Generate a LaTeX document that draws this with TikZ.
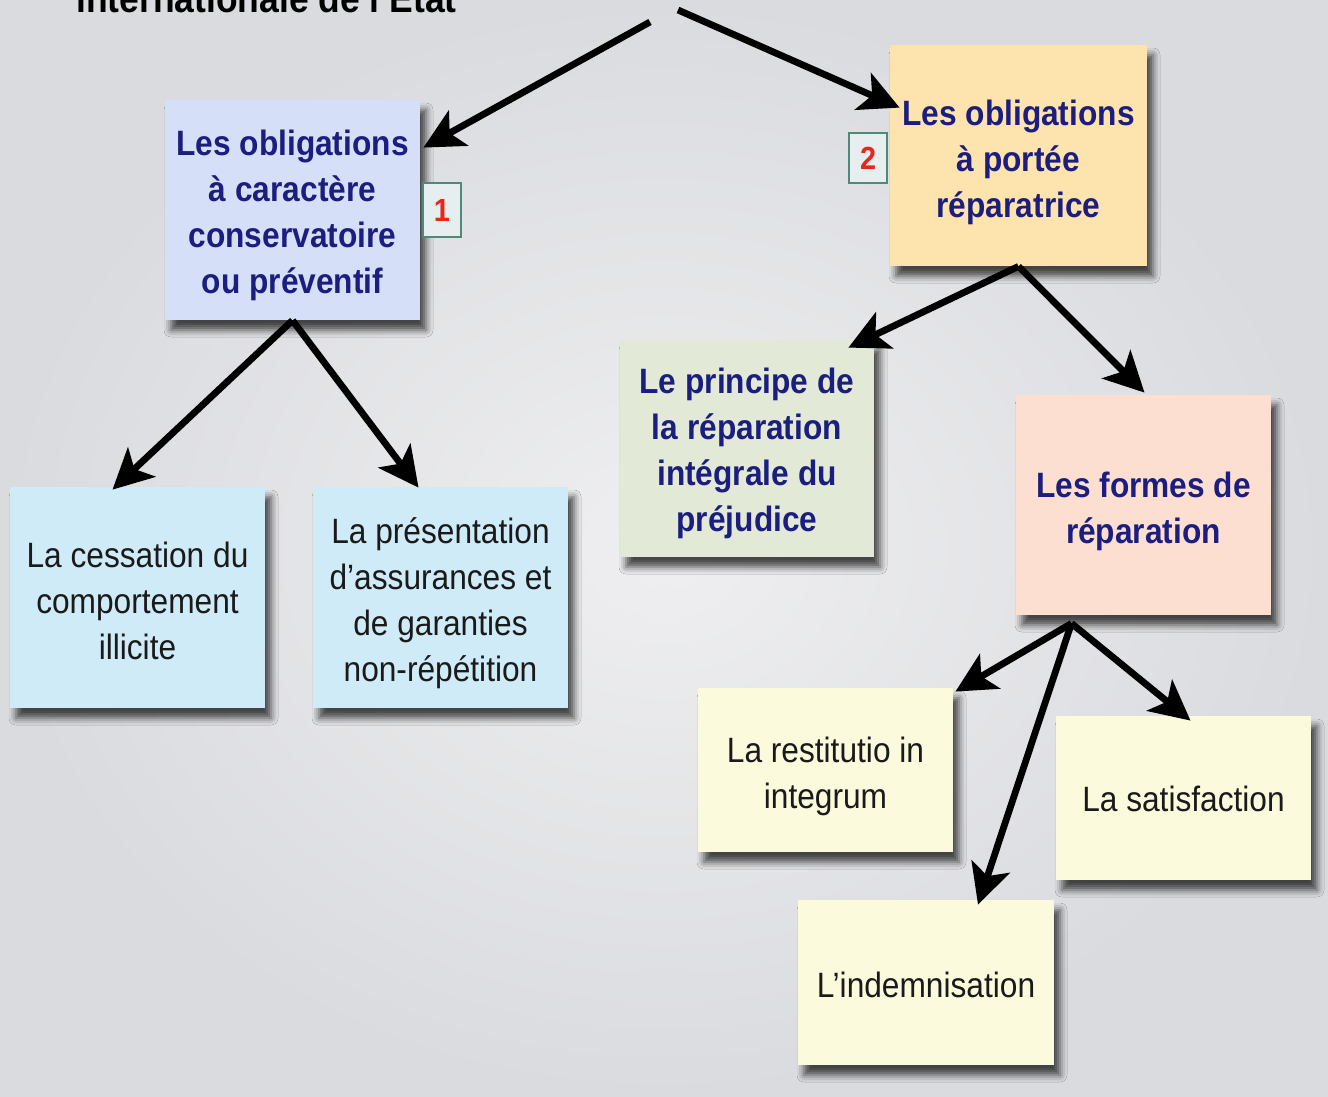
\documentclass[tikz,border=0pt]{standalone}
\usepackage{fontspec}
\setmainfont{Liberation Sans}[FakeStretch=0.9]
\usetikzlibrary{arrows.meta,calc,shadows.blur}
\definecolor{navy}{HTML}{1B1E7E}
\definecolor{txt}{HTML}{1A1A1A}
\definecolor{fblue}{HTML}{D5DFF8}
\definecolor{forange}{HTML}{FDE3AE}
\definecolor{fgreen}{HTML}{E2E9D6}
\definecolor{fpeach}{HTML}{FCDFD0}
\definecolor{fcyan}{HTML}{CFEBF8}
\definecolor{fyellow}{HTML}{FCFADC}
\definecolor{mkborder}{HTML}{4F8A76}
\definecolor{mkfill}{HTML}{E6EEF0}
\definecolor{mkred}{HTML}{E8261C}
\definecolor{bgin}{HTML}{EFEFF1}
\definecolor{bgout}{HTML}{DADBDF}
\begin{document}
\begin{tikzpicture}[x=0.5pt,y=-0.5pt,
  box/.style={rectangle, minimum width=127.5pt, minimum height=110pt, inner sep=0pt,
    blur shadow={shadow xshift=3pt, shadow yshift=-5pt, shadow blur radius=3.5pt, shadow opacity=70}},
  sbox/.style={box, minimum height=82pt},
  tn/.style={align=center, inner sep=0pt, text=txt, font=\fontsize{17.6}{23}\selectfont},
  htn/.style={tn, text=navy, font=\fontsize{17.6}{23}\selectfont\bfseries},
  marker/.style={draw=mkborder, line width=0.8pt, fill=mkfill, minimum width=19pt,
    inner sep=0pt, text=mkred, font=\fontsize{16}{16}\selectfont\bfseries},
  arr/.style={line width=3.4pt, -{Stealth[length=20pt,width=20pt,inset=5pt]}}]
\useasboundingbox (0,0) rectangle (1328,1097);
\shade[inner color=bgin, outer color=bgout] (0,0) rectangle (1328,1097);
\begin{scope}
\clip (0,0) rectangle (1328,1097);
\node[anchor=base west, inner sep=0pt, text=black, font=\fontsize{19.7}{20}\selectfont\bfseries] (title) at (76,13) {internationale de l’Etat};
\end{scope}
% boxes
\node[box, fill=fblue] (b1) at (292.5,210) {};
\node[box, fill=forange, minimum width=128.5pt, minimum height=110.5pt] (b2) at (1018.5,155.5) {};
\node[box, fill=fgreen, minimum width=127pt, minimum height=108.5pt] (princ) at (747,448.5) {};
\node[box, fill=fpeach] (formes) at (1143.5,505) {};
\node[box, fill=fcyan, minimum height=110.5pt] (cess) at (137.5,597.5) {};
\node[box, fill=fcyan, minimum height=110.5pt] (pres) at (440.5,597.5) {};
\node[sbox, fill=fyellow] (restit) at (825.5,770) {};
\node[sbox, fill=fyellow] (satis) at (1183.5,798) {};
\node[sbox, fill=fyellow, minimum width=128pt, minimum height=82.5pt] (indem) at (926,982.5) {};
% texts
\node[htn] (b1t) at ($(b1)+(0,5)$) {Les obligations\\à caractère\\conservatoire\\ou préventif};
\node[htn] (b2t) at ($(b2)+(0,7)$) {Les obligations\\à portée\\réparatrice};
\node[htn] (princt) at ($(princ)+(0,5)$) {Le principe de\\la réparation\\intégrale du\\préjudice};
\node[htn] (formest) at ($(formes)+(0,6)$) {Les formes de\\réparation};
\node[tn] (cesst) at ($(cess)+(0,3)$) {La cessation du\\comportement\\illicite};
\node[tn] (prest) at ($(pres)+(0,6)$) {La présentation\\d’assurances et\\de garanties\\non-répétition};
\node[tn] (restitt) at ($(restit)+(0,6)$) {La restitutio in\\integrum};
\node[tn] (satist) at ($(satis)+(0,1)$) {La satisfaction};
\node[tn] (indemt) at ($(indem)+(0,2)$) {L’indemnisation};
% markers
\node[marker, minimum height=27pt] (m1) at (442,210) {1};
\node[marker, minimum height=25pt] (m2) at (868,158) {2};
% connectors
\coordinate (r1) at (650,22);
\coordinate (r2) at (678,10);
\coordinate (fo) at ($(formes.south)+(-72,8)$);
\draw[arr] (r1) -- ($(b1.north east)+(3,48)$);
\draw[arr] (r2) -- ($(b2.north west)+(10,63)$);
\draw[arr] (b2.south) -- ($(princ.north east)+(-26,8)$);
\draw[arr] (b2.south) -- ($(formes.north)+(1,-2)$);
\draw[arr] (b1.south) -- ($(cess.north)+(-25,3)$);
\draw[arr] (b1.south) -- ($(pres.north)+(-22,1)$);
\draw[arr] (fo) -- ($(restit.north east)+(2,4)$);
\draw[arr] (fo) -- ($(indem.north)+(52,5)$);
\draw[arr] (fo) -- ($(satis.north)+(7,5)$);
\end{tikzpicture}
\end{document}
